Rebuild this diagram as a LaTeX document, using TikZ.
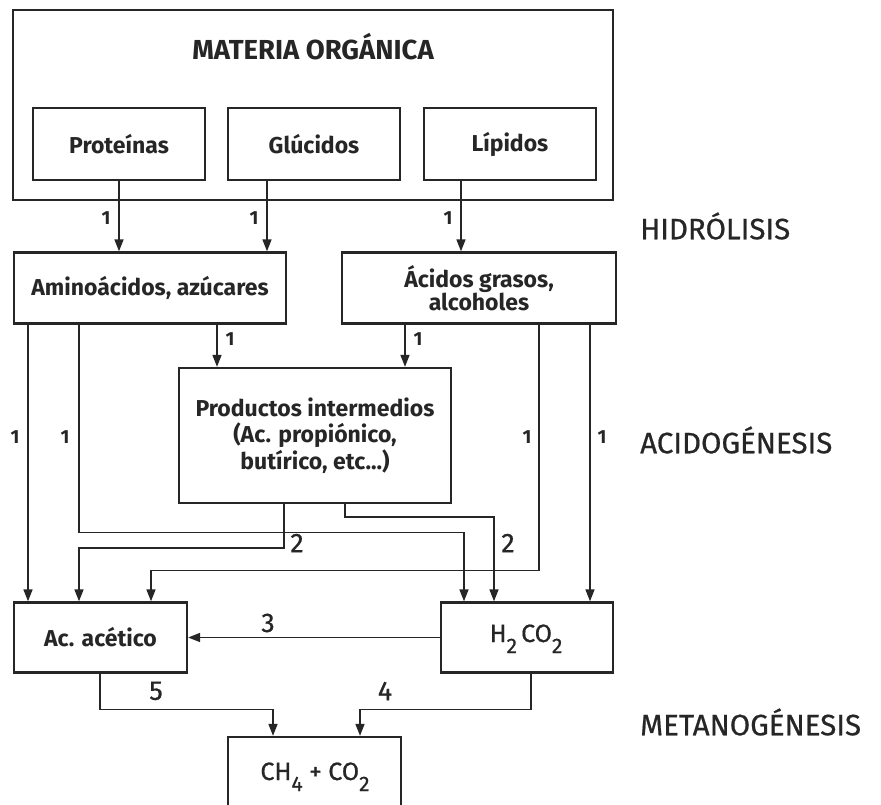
\documentclass[tikz,border=0pt]{standalone}
\usepackage{fontspec}
\setmainfont{Fira Sans}
\newfontfamily\medfont{Fira Sans}[FakeBold=0.6]
\usetikzlibrary{arrows.meta}
\definecolor{ink}{RGB}{38,38,38}
\newcommand{\mysub}[1]{\raisebox{-11pt}{\fontsize{21}{21}\selectfont #1}}
\begin{document}
\begin{tikzpicture}[x=1pt,y=-1pt,
  box/.style={draw=ink, line width=2.3pt, inner sep=0pt, text=ink, align=center,
    font=\bfseries\fontsize{23}{25}\selectfont},
  conn/.style={draw=ink, line width=1.5pt},
  arr/.style={conn, -{Triangle[length=12pt,width=9pt]}},
  one/.style={font=\bfseries\fontsize{19}{20}\selectfont, text=ink, inner sep=0pt},
  num/.style={font=\medfont\fontsize{27}{30}\selectfont, text=ink, inner sep=0pt},
  chem/.style={font=\medfont\fontsize{25}{30}\selectfont, text=ink, inner sep=0pt},
  phase/.style={font=\medfont\fontsize{29.5}{32}\selectfont, text=ink, anchor=west, inner sep=0pt}]
\useasboundingbox (0,0) rectangle (881,805);
\fill[white] (0,0) rectangle (881,805);
\clip (0,0) rectangle (881,805);

% boxes
\node[box, minimum width=600pt, minimum height=190pt] (top) at (313,105) {};
\node[text=ink, font=\bfseries\fontsize{27.5}{30}\selectfont, inner sep=0pt] (title) at (313,47) {MATERIA ORGÁNICA};
\node[box, minimum width=172pt, minimum height=72pt] (prot) at (119,144) {Proteínas};
\node[box, minimum width=172pt, minimum height=72pt] (gluc) at (314,144) {Glúcidos};
\node[box, minimum width=172pt, minimum height=72pt] (lip) at (510,144) {Lípidos};
\node[box, minimum width=272pt, minimum height=71pt] (amino) at (150,288) {Aminoácidos, azúcares};
\node[box, minimum width=274pt, minimum height=71pt, font=\bfseries\fontsize{23}{22}\selectfont] (acid) at (479,288) {Ácidos grasos,\\alcoholes};
\node[box, minimum width=272pt, minimum height=135pt, font=\bfseries\fontsize{23}{26.5}\selectfont] (prod) at (315,435.5) {Productos intermedios\\(Ac. propiónico,\\butírico, etc...)};
\node[box, minimum width=173pt, minimum height=70pt] (acet) at (100.5,637.5) {Ac. acético};
\node[box, minimum width=172pt, minimum height=70pt] (h2) at (527,637.5) {};
\node[chem, anchor=base] (h2t) at (526,642) {H\mysub{2}\,CO\mysub{2}};
\node[box, minimum width=173pt, minimum height=110pt] (ch4) at (314.5,792) {};
\node[chem, anchor=base] (ch4t) at (315,780) {CH\mysub{4} + CO\mysub{2}};

% phase labels
\node[phase] (hid) at (640,226) {HIDRÓLISIS};
\node[phase] (aci) at (640,440) {ACIDOGÉNESIS};
\node[phase] (met) at (640,722) {METANOGÉNESIS};

% x positions of connectors
\coordinate (xp) at (119,0);
\coordinate (xg) at (267,0);
\coordinate (xl) at (461,0);
\coordinate (xa1) at (217,0);
\coordinate (xa2) at (405,0);
\coordinate (xL1) at (28,0);
\coordinate (xL2) at (79,0);
\coordinate (xR1) at (539,0);
\coordinate (xR2) at (590,0);
\coordinate (xP1) at (284,0);
\coordinate (xP2) at (345,0);
\coordinate (xH1) at (464,0);
\coordinate (xH2) at (494,0);
\coordinate (xA3) at (151,0);
\coordinate (xC5) at (100,0);
\coordinate (xC4) at (531,0);
\coordinate (xT5) at (273,0);
\coordinate (xT4) at (360,0);

% hydrolysis
\draw[arr] (prot.south -| xp) -- (amino.north -| xp);
\draw[arr] (gluc.south -| xg) -- (amino.north -| xg);
\draw[arr] (lip.south -| xl) -- (acid.north -| xl);
\node[one] (n1a) at (106,218) {1};
\node[one] (n1b) at (254,218) {1};
\node[one] (n1c) at (448,218) {1};

% to intermediates
\draw[arr] (amino.south -| xa1) -- (prod.north -| xa1);
\draw[arr] (acid.south -| xa2) -- (prod.north -| xa2);
\node[one] (n1d) at (230,339) {1};
\node[one] (n1e) at (418,339) {1};

% acidogenesis routes
\draw[arr] (amino.south -| xL1) -- (acet.north -| xL1);
\draw[arr] (amino.south -| xL2) -- ++(0,208) -| (h2.north -| xH1);
\draw[arr] (acid.south -| xR1) -- ++(0,246) -| (acet.north -| xA3);
\draw[arr] (acid.south -| xR2) -- (h2.north -| xR2);
\draw[arr] (prod.south -| xP1) -- ++(0,44) -| (acet.north -| xL2);
\draw[arr] (prod.south -| xP2) -- ++(0,13) -| (h2.north -| xH2);
\node[one] (n1f) at (15,437) {1};
\node[one] (n1g) at (65,437) {1};
\node[one] (n1h) at (527,437) {1};
\node[one] (n1i) at (602,437) {1};
\node[num] (n2a) at (297,543) {2};
\node[num] (n2b) at (508,543) {2};

% methanogenesis
\draw[arr] (h2.west) -- (acet.east);
\node[num] (n3) at (268,623) {3};
\draw[arr] (acet.south -| xC5) -- ++(0,36) -| (ch4.north -| xT5);
\draw[arr] (h2.south -| xC4) -- ++(0,36) -| (ch4.north -| xT4);
\node[num] (n5) at (156,691) {5};
\node[num] (n4) at (385,691) {4};
\end{tikzpicture}
\end{document}
